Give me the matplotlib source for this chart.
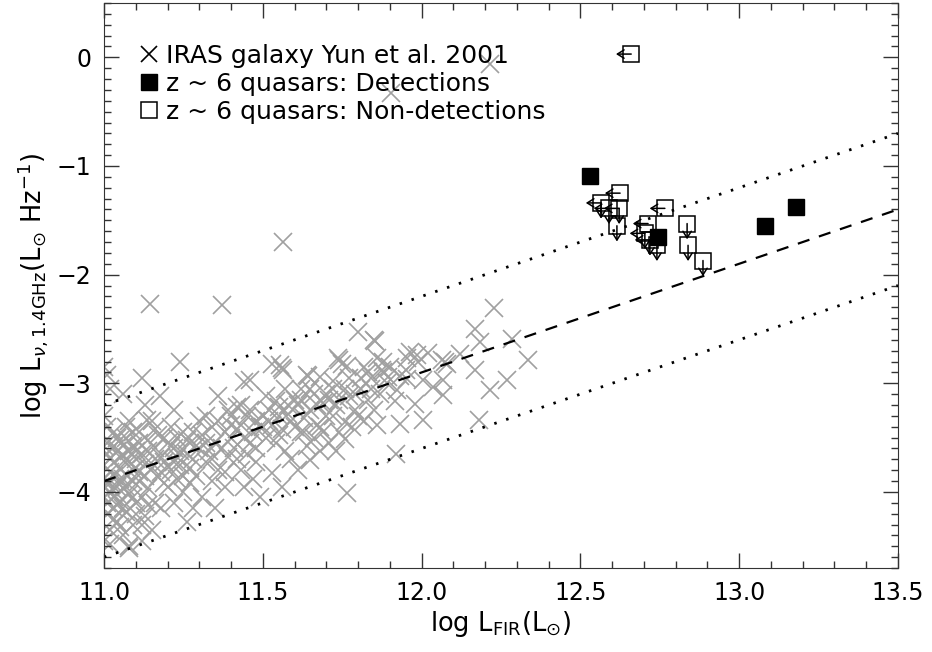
import matplotlib
matplotlib.use("Agg")
from matplotlib import pyplot as plt
from matplotlib.lines import Line2D
from matplotlib.ticker import MultipleLocator, FormatStrFormatter

# IRAS galaxies (Yun et al. 2001)
iras_x = [11.00, 11.01, 11.02, 11.00, 11.03, 11.01, 11.04, 11.02, 11.00, 11.05, 11.03, 11.01, 11.04, 11.02,
          11.00, 11.05, 11.03, 11.01, 11.04, 11.02, 11.00, 11.03, 11.05, 11.00, 11.02, 11.04, 11.01, 11.03,
          11.06, 11.08, 11.07, 11.09, 11.06, 11.08, 11.10, 11.07, 11.09, 11.06, 11.08, 11.10, 11.07, 11.09,
          11.06, 11.08, 11.10, 11.07, 11.09, 11.06,
          11.12, 11.13, 11.15, 11.11, 11.14, 11.16, 11.12, 11.18, 11.13, 11.15, 11.11, 11.17, 11.19, 11.14,
          11.12, 11.16, 11.18, 11.13, 11.15, 11.20, 11.19, 11.17, 11.145, 11.176, 11.134,
          11.24, 11.22, 11.21, 11.23, 11.25, 11.27, 11.22, 11.26, 11.28, 11.24, 11.21, 11.29, 11.23, 11.27,
          11.25, 11.22, 11.28, 11.26, 11.30, 11.29,
          11.37, 11.36, 11.39, 11.42, 11.32, 11.34, 11.31, 11.38, 11.35, 11.33, 11.37, 11.39, 11.32, 11.36,
          11.34, 11.38, 11.31, 11.35, 11.40, 11.40,
          11.44, 11.46, 11.43, 11.45, 11.48, 11.42, 11.47, 11.44, 11.49, 11.46, 11.41, 11.45, 11.48, 11.43,
          11.47, 11.44, 11.49, 11.50,
          11.53, 11.56, 11.564, 11.51, 11.54, 11.57, 11.52, 11.55, 11.58, 11.53, 11.56, 11.59, 11.51, 11.54,
          11.57, 11.59, 11.53, 11.56, 11.60, 11.554, 11.565, 11.643,
          11.64, 11.68, 11.62, 11.66, 11.61, 11.65, 11.69, 11.63, 11.67, 11.62, 11.66, 11.70, 11.64, 11.68,
          11.65, 11.61, 11.69,
          11.74, 11.75, 11.80, 11.72, 11.76, 11.71, 11.73, 11.77, 11.79, 11.72, 11.76, 11.74, 11.76, 11.78,
          11.764, 11.71, 11.738, 11.764,
          11.85, 11.86, 11.82, 11.84, 11.81, 11.88, 11.83, 11.87, 11.89, 11.85, 11.82, 11.86, 11.904, 11.853,
          11.874, 11.895,
          11.963, 11.985, 11.953, 12.063, 12.079, 11.932, 11.953, 12.005, 12.037, 12.068, 11.979, 11.932,
          12.005, 11.92, 12.068, 11.916, 11.921,
          12.168, 12.184, 12.228, 12.284, 12.336, 12.12, 12.074, 12.168, 12.268, 12.215, 12.18, 12.215,
          11.01, 11.03, 11.05, 11.02, 11.04, 11.06, 11.01, 11.03, 11.05, 11.07, 11.09, 11.11, 11.13, 11.10,
          11.12, 11.14, 11.16, 11.18, 11.20, 11.22, 11.24, 11.26, 11.28, 11.30, 11.32, 11.34, 11.11, 11.09,
          11.07, 11.14, 11.16, 11.19, 11.21, 11.23, 11.25, 11.27, 11.04, 11.06, 11.08, 11.10, 11.02, 11.08,
          11.12, 11.05, 11.00, 11.00,
          11.36, 11.40, 11.43, 11.46, 11.50, 11.52, 11.55, 11.58, 11.60, 11.62, 11.65, 11.67, 11.70, 11.72,
          11.74, 11.77, 11.79, 11.81, 11.83, 11.84, 11.55, 11.48, 11.42, 11.38, 11.63, 11.68, 11.73, 11.80,
          11.88, 11.90, 11.95, 11.99, 12.02]
iras_y = [-2.85, -2.92, -3.05, -3.30, -3.45, -3.55, -3.62, -3.70, -3.75, -3.78, -3.85, -3.90, -3.95, -4.00,
          -4.05, -4.08, -4.15, -4.20, -4.28, -4.35, -4.45, -3.72, -3.88, -3.95, -3.82, -4.12, -3.65, -4.05,
          -3.10, -3.35, -3.50, -3.58, -3.66, -3.72, -3.78, -3.84, -3.90, -3.96, -4.02, -4.10, -4.18, -4.30,
          -4.40, -4.50, -3.62, -3.70, -3.80, -3.88,
          -2.95, -3.20, -3.35, -3.45, -3.52, -3.60, -3.65, -3.68, -3.74, -3.78, -3.82, -3.86, -3.92, -3.96,
          -4.05, -4.10, -4.15, -4.22, -4.35, -3.55, -3.72, -3.48, -2.27, -3.12, -3.34,
          -2.80, -3.25, -3.40, -3.50, -3.45, -3.55, -3.60, -3.65, -3.70, -3.75, -3.80, -3.58, -3.88, -3.92,
          -4.00, -4.10, -4.15, -4.28, -3.35, -3.85,
          -2.28, -3.12, -3.25, -3.22, -3.30, -3.40, -3.48, -3.45, -3.55, -3.62, -3.60, -3.68, -3.72, -3.80,
          -3.90, -3.95, -4.05, -4.15, -3.50, -3.38,
          -2.99, -2.97, -3.20, -3.30, -3.35, -3.42, -3.45, -3.50, -3.40, -3.55, -3.60, -3.65, -3.72, -3.80,
          -3.88, -3.95, -4.05, -3.30,
          -2.82, -2.86, -1.70, -3.12, -3.16, -3.05, -3.25, -3.30, -3.20, -3.38, -3.42, -3.35, -3.50, -3.55,
          -3.62, -3.70, -3.83, -3.95, -3.15, -2.83, -2.88, -2.93,
          -2.92, -2.94, -3.05, -3.10, -3.20, -3.25, -3.18, -3.32, -3.38, -3.45, -3.50, -3.30, -3.58, -3.62,
          -3.71, -3.80, -3.45,
          -2.79, -2.82, -2.53, -2.98, -3.05, -3.15, -3.20, -3.12, -3.25, -3.30, -3.36, -3.45, -3.51, -3.40,
          -4.01, -3.55, -2.77, -2.84,
          -2.60, -2.77, -2.85, -2.95, -3.05, -2.90, -3.15, -3.10, -3.00, -3.25, -3.35, -3.38, -0.33, -2.61,
          -2.88, -2.94,
          -2.71, -2.74, -2.77, -2.79, -2.82, -2.93, -2.96, -2.97, -3.03, -3.11, -3.19, -3.37,
          -3.34, -3.65, -2.97, -3.16, -3.06,
          -2.50, -2.62, -2.31, -2.59, -2.79, -2.73, -2.80, -2.88, -2.97, -3.06, -3.34, -0.06,
          -3.40, -3.58, -3.68, -3.92, -4.02, -4.15, -4.10, -4.25, -3.52, -3.95, -4.05, -3.90, -3.85, -4.20,
          -4.30, -4.12, -3.70, -3.82, -3.95, -3.72, -3.62, -3.52, -3.45, -3.60, -3.55, -3.70, -3.55, -3.45,
          -3.40, -3.62, -3.42, -3.50, -3.58, -3.68, -3.85, -3.78, -3.50, -3.58, -3.62, -3.70, -4.48, -4.52,
          -4.45, -4.32, -3.58, -3.88,
          -3.35, -3.30, -3.38, -3.25, -3.40, -3.35, -3.22, -3.28, -3.40, -3.15, -3.05, -3.20, -3.10, -3.05,
          -3.15, -2.95, -3.10, -2.95, -2.90, -3.05, -3.48, -3.60, -3.70, -3.82, -3.45, -3.40, -3.62, -3.30,
          -2.80, -2.85, -2.88, -2.80, -2.72]

# z~6 quasars: detections
det_x = [12.53, 12.745, 13.08, 13.18]
det_y = [-1.09, -1.65, -1.55, -1.38]

# z~6 quasars: non-detections (left = FIR upper limit, down = radio upper limit)
nd_x = [12.66, 12.625, 12.565, 12.59, 12.622, 12.615, 12.766, 12.713, 12.703, 12.719, 12.741, 12.836, 12.839, 12.886]
nd_y = [0.03, -1.25, -1.34, -1.39, -1.39, -1.55, -1.39, -1.53, -1.62, -1.68, -1.73, -1.53, -1.73, -1.87]
nd_left = [1, 1, 1, 1, 1, 0, 1, 1, 1, 1, 0, 0, 0, 0]
nd_down = [0, 0, 1, 1, 1, 1, 0, 0, 1, 1, 1, 1, 1, 1]

# radio-FIR correlation: log L_1.4 = log L_FIR - q, with +-0.7 band
q_mid = 14.9
q_band = 0.7
line_x = [11.0, 13.5]

plt.rcParams['font.family'] = ['DejaVu Sans']
fig = plt.figure(figsize=(9.32, 6.52), dpi=100)
ax = fig.add_axes([0.1116, 0.1288, 0.8519, 0.8666])

ax.plot(iras_x, iras_y, 'x', color='#a0a0a0', ms=12.5, mew=1.2, zorder=1)

ax.plot(line_x, [v - q_mid for v in line_x], color='black', lw=1.6, ls=(0, (5.5, 4.5)), zorder=2)
ax.plot(line_x, [v - q_mid + q_band for v in line_x], color='black', lw=2.0, ls=(0, (0.9, 3.6)), zorder=2)
ax.plot(line_x, [v - q_mid - q_band for v in line_x], color='black', lw=2.0, ls=(0, (0.9, 3.6)), zorder=2)

ax.plot(det_x, det_y, 's', color='black', ms=11.5, zorder=4)
ax.plot(nd_x, nd_y, 's', mfc='none', mec='black', ms=11.5, mew=1.1, zorder=3)

arr = dict(arrowstyle='->,head_length=0.4,head_width=0.25', color='black', lw=1.1,
           shrinkA=0, shrinkB=0, mutation_scale=12)
for x, y, l, d in zip(nd_x, nd_y, nd_left, nd_down):
    if l:
        ax.annotate('', xy=(x - 0.048, y), xytext=(x, y), arrowprops=arr, zorder=3)
    if d:
        ax.annotate('', xy=(x, y - 0.145), xytext=(x, y), arrowprops=arr, zorder=3)

ax.set_xlim(11.0, 13.5)
ax.set_ylim(-4.7, 0.5)
ax.xaxis.set_major_locator(MultipleLocator(0.5))
ax.xaxis.set_minor_locator(MultipleLocator(0.1))
ax.yaxis.set_major_locator(MultipleLocator(1))
ax.yaxis.set_minor_locator(MultipleLocator(0.1))
ax.xaxis.set_major_formatter(FormatStrFormatter('%.1f'))
ax.tick_params(which='both', direction='in', top=True, right=True, labelsize=17, color='#333333')
ax.tick_params(which='major', length=11, width=1, pad=9)
ax.tick_params(which='minor', length=5, width=1)
for s in ax.spines.values():
    s.set_color('#333333')

ax.set_xlabel(r'log L$_{\rm FIR}$(L$_{\odot}$)', fontsize=18.5, labelpad=3)
ax.set_ylabel(r'log L$_{\nu,\rm 1.4GHz}$(L$_{\odot}$ Hz$^{-1}$)', fontsize=18.5, labelpad=5)

handles = [Line2D([], [], ls='none', marker='x', color='black', ms=12, mew=1.2),
           Line2D([], [], ls='none', marker='s', color='black', ms=11),
           Line2D([], [], ls='none', marker='s', mfc='none', mec='black', ms=11, mew=1.1)]
labels = ['IRAS galaxy Yun et al. 2001', 'z ~ 6 quasars: Detections', 'z ~ 6 quasars: Non-detections']
ax.legend(handles, labels, loc='upper left', bbox_to_anchor=(0.035, 0.945), frameon=False,
          fontsize=18, handlelength=0.6, handletextpad=0.35, labelspacing=0.15, borderaxespad=0)

fig.savefig('out.png', dpi=100)
